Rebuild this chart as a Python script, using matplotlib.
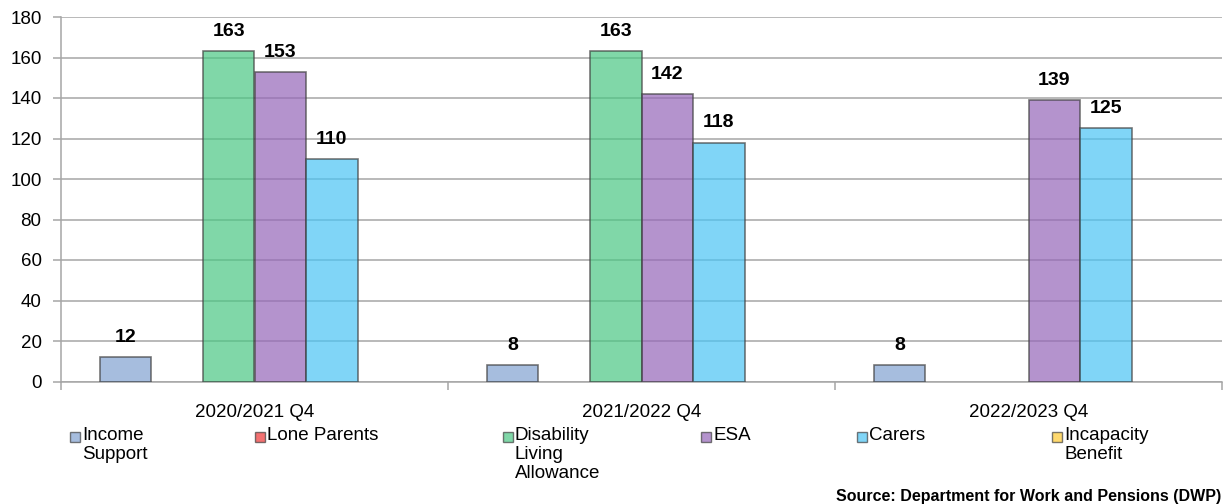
import matplotlib.pyplot as plt
import matplotlib.patches as mpatches
import numpy as np

plt.rcParams['font.family'] = ['Liberation Sans', 'DejaVu Sans']

quarters = ['2020/2021 Q4', '2021/2022 Q4', '2022/2023 Q4']
series_names = ['Income\nSupport', 'Lone Parents', 'Disability\nLiving\nAllowance',
                'ESA', 'Carers', 'Incapacity\nBenefit']
income_support = [12, 8, 8]
lone_parents = [0, 0, 0]
disability_living = [163, 163, None]
esa = [153, 142, 139]
carers = [110, 118, 125]
incapacity = [0, 0, 0]

series = [income_support, lone_parents, disability_living, esa, carers, incapacity]
colors = ['#81A2D0', '#EF3535', '#4AC783', '#9566B9', '#4AC4F5', '#FFC930']
ALPHA = 0.7


def main():
    fig = plt.figure(figsize=(12.23, 5.04), dpi=100)
    ax = fig.add_axes([61 / 1223, 1 - 381.5 / 504, 1161 / 1223, 364.5 / 504])

    x = np.arange(len(quarters))
    width = 0.8 / len(series)
    for i, (vals, col) in enumerate(zip(series, colors)):
        pos = x - 0.4 + width * (i + 0.5)
        # zero / missing values leave an empty slot, like the original
        h = [np.nan if not v else v for v in vals]
        ax.bar(pos, h, width=width, color=col, alpha=ALPHA,
               edgecolor='#404040', linewidth=1.2, zorder=3)
        for p, v in zip(pos, vals):
            if v:
                ax.annotate(str(v), (p, v), xytext=(0, 8), textcoords='offset points',
                            ha='center', va='bottom', fontsize=14,
                            fontweight='bold', zorder=5)

    ax.set_xlim(-0.5, 2.5)
    ax.set_ylim(0, 180)
    ax.set_yticks(np.arange(0, 181, 20))
    ax.yaxis.grid(True, color='#A6A6A6', linewidth=1.1, zorder=0)
    ax.set_axisbelow(True)
    for s in ['top', 'right']:
        ax.spines[s].set_visible(False)
    for s in ['left', 'bottom']:
        ax.spines[s].set_color('#A6A6A6')
        ax.spines[s].set_linewidth(1.1)

    ax.set_xticks(x)
    ax.set_xticklabels(quarters)
    ax.set_xticks(np.arange(-0.5, 3, 1), minor=True)
    ax.tick_params(axis='x', which='major', length=0, pad=16, labelsize=13.5)
    ax.tick_params(axis='x', which='minor', length=6, color='#A6A6A6', width=1.1)
    ax.tick_params(axis='y', length=6, color='#A6A6A6', width=1.1, pad=8, labelsize=13.5)

    # legend drawn by hand to follow the uneven spacing of the original
    leg_x = [70, 255, 503, 701, 857, 1052]
    for lx, name, col in zip(leg_x, series_names, colors):
        fig.patches.append(mpatches.Rectangle(
            (lx / 1223, 1 - 442 / 504), 10 / 1223, 10 / 504, transform=fig.transFigure,
            facecolor=col, alpha=ALPHA, edgecolor='#404040', linewidth=1.0))
        fig.text((lx + 12) / 1223, 1 - 427 / 504, name, ha='left', va='top',
                 fontsize=13.5, linespacing=1.17)

    fig.text(1221 / 1223, 1 - 496 / 504, 'Source: Department for Work and Pensions (DWP)',
             ha='right', va='center', fontsize=11.5, fontweight='bold')

    fig.savefig('out.png', dpi=100)


if __name__ == '__main__':
    main()
